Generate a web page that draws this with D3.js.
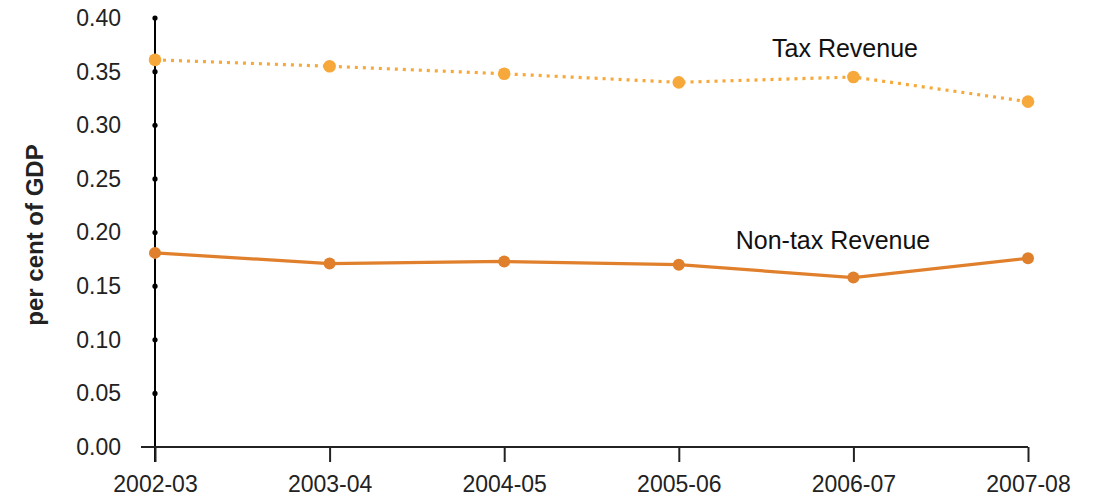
<!DOCTYPE html>
<html><head><meta charset="utf-8">
<script src="https://cdn.jsdelivr.net/npm/d3@7"></script>
<style>html,body{margin:0;padding:0;background:#fff;}</style>
</head><body>
<svg id="c" width="1096" height="501"></svg>
<script>
const categories = ["2002-03","2003-04","2004-05","2005-06","2006-07","2007-08"];
const taxRevenue = [0.361, 0.355, 0.348, 0.340, 0.345, 0.322];
const nonTaxRevenue = [0.181, 0.171, 0.173, 0.170, 0.158, 0.176];
const yTicks = [0.00,0.05,0.10,0.15,0.20,0.25,0.30,0.35,0.40];
const seriesNames = ["Tax Revenue","Non-tax Revenue"];

const svg = d3.select("#c");
const font = "'Liberation Sans', Arial, sans-serif";
const x = d3.scalePoint().domain(categories).range([155, 1028]);
const y = d3.scaleLinear().domain([0, 0.40]).range([447, 18]);

// y axis
const yAxis = d3.axisLeft(y).tickValues(yTicks).tickFormat(d3.format(".2f")).tickSize(0).tickPadding(34);
const gy = svg.append("g").attr("transform","translate(155,0)").call(yAxis);
gy.select(".domain").remove();
gy.selectAll("text").attr("font-family",font).attr("font-size",23).attr("fill","#222");
svg.append("line").attr("x1",155).attr("x2",155).attr("y1",y(0.40)).attr("y2",462)
  .attr("stroke","#000").attr("stroke-width",2);
svg.selectAll(".ydot").data(yTicks.filter(d=>d>0)).enter().append("circle")
  .attr("cx",155).attr("cy",d=>y(d)).attr("r",2.6).attr("fill","#000");

// x axis
const xAxis = d3.axisBottom(x).tickSize(15).tickPadding(14);
const gx = svg.append("g").attr("transform","translate(0,447)").call(xAxis);
gx.select(".domain").remove();
gx.selectAll(".tick line").attr("stroke","#222").attr("stroke-width",2);
gx.selectAll("text").attr("font-family",font).attr("font-size",23).attr("fill","#222");
svg.append("line").attr("x1",141).attr("x2",1028).attr("y1",447).attr("y2",447)
  .attr("stroke","#222").attr("stroke-width",2);

// y label
svg.append("text").attr("transform","translate(43,235) rotate(-90)")
  .attr("text-anchor","middle").attr("font-family",font).attr("font-weight","bold")
  .attr("font-size",24).attr("fill","#222").text("per cent of GDP");

const line = d3.line().x((d,i)=>x(categories[i])).y(d=>y(d));
// tax
svg.append("path").datum(taxRevenue).attr("d",line).attr("fill","none")
  .attr("stroke","#F7A83A").attr("stroke-width",3.2).attr("stroke-dasharray","3,5");
svg.selectAll(".tdot").data(taxRevenue).enter().append("circle")
  .attr("cx",(d,i)=>x(categories[i])).attr("cy",d=>y(d)).attr("r",6.3).attr("fill","#F7A83A");
// non-tax
svg.append("path").datum(nonTaxRevenue).attr("d",line).attr("fill","none")
  .attr("stroke","#E0802C").attr("stroke-width",3.2);
svg.selectAll(".ndot").data(nonTaxRevenue).enter().append("circle")
  .attr("cx",(d,i)=>x(categories[i])).attr("cy",d=>y(d)).attr("r",6).attr("fill","#E0802C");

// series labels
svg.append("text").attr("x",845).attr("y",57).attr("text-anchor","middle")
  .attr("font-family",font).attr("font-size",25).attr("fill","#111").text(seriesNames[0]);
svg.append("text").attr("x",833).attr("y",249).attr("text-anchor","middle")
  .attr("font-family",font).attr("font-size",25).attr("fill","#111").text(seriesNames[1]);
</script>
</body></html>
